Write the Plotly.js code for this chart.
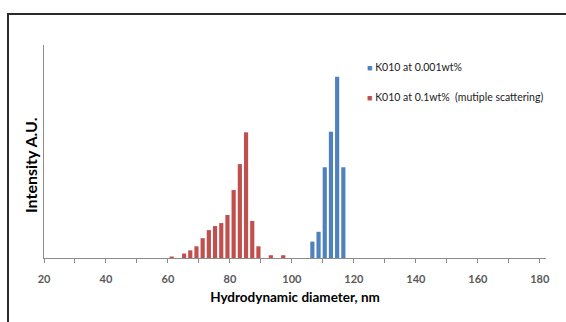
<!DOCTYPE html>
<html>
<head>
<meta charset="utf-8">
<script src="https://cdn.plot.ly/plotly-3.0.1.min.js"></script>
<style>
html,body{margin:0;padding:0;background:#fff;}
#chart{width:566px;height:322px;}
</style>
</head>
<body>
<div id="chart"></div>
<script>
// Series: K010 at 0.001wt% (blue)
const blueDiameter = [106.6, 108.6, 110.6, 112.6, 114.6, 116.6];
const blueIntensity = [0.077, 0.123, 0.426, 0.593, 0.851, 0.426];
// Series: K010 at 0.1wt% (multiple scattering) (red)
const redDiameter = [61.2, 65.2, 67.2, 69.2, 71.2, 73.2, 75.2, 77.2, 79.2, 81.2, 83.2, 85.2, 87.2, 89.2, 93.2, 97.2];
const redIntensity = [0.007, 0.021, 0.036, 0.055, 0.093, 0.131, 0.150, 0.164, 0.202, 0.319, 0.441, 0.590, 0.174, 0.055, 0.013, 0.013];
const seriesNames = ["K010 at 0.001wt%", "K010 at 0.1wt%  (mutiple scattering)"];
const xTickVals = [20, 40, 60, 80, 100, 120, 140, 160, 180];
const yTitle = "Intensity A.U.";

const BLUE = "#4F81BD", RED = "#C0504D";
const font = "Lato, 'Open Sans', sans-serif";

const traces = [
  {type: "bar", x: blueDiameter, y: blueIntensity, name: seriesNames[0],
   marker: {color: BLUE}, width: 1.35, showlegend: false},
  {type: "bar", x: redDiameter, y: redIntensity, name: seriesNames[1],
   marker: {color: RED}, width: 1.35, showlegend: false}
];

const layout = {
  width: 566, height: 322,
  margin: {l: 44, r: 20, t: 45, b: 64},
  paper_bgcolor: "#fff", plot_bgcolor: "#fff",
  barmode: "overlay",
  font: {family: font, color: "#404040"},
  xaxis: {
    range: [20, 182], tickvals: xTickVals, ticktext: xTickVals.map(String),
    showline: true, linecolor: "#8c8c8c", linewidth: 1,
    ticks: "outside", ticklen: 4, tickcolor: "#8c8c8c",
    minor: {dtick: 10, tick0: 20, ticks: "outside", ticklen: 4, tickcolor: "#8c8c8c"},
    showgrid: false, zeroline: false,
    ticklabelstandoff: 7,
    tickfont: {family: font, size: 11, color: "#595959", weight: "bold"},
    title: {text: "Hydrodynamic diameter, nm", standoff: 8,
            font: {family: font, size: 13.5, color: "#000", weight: "bold"}}
  },
  yaxis: {
    range: [0, 1], showline: true, linecolor: "#8c8c8c", linewidth: 1,
    showticklabels: false, ticks: "", showgrid: false, zeroline: false
  },
  annotations: [
    {xref: "paper", yref: "paper", x: (30 - 44) / 502, y: (258 - 165) / 213,
     xanchor: "center", yanchor: "middle", showarrow: false, textangle: -90,
     text: yTitle,
     font: {family: font, size: 16, color: "#000", weight: "bold"}},
    {xref: "paper", yref: "paper", x: (365 - 44) / 502, y: (258 - 67) / 213,
     xanchor: "left", yanchor: "middle", showarrow: false, align: "left",
     text: '<span style="color:' + BLUE + ';font-size:9px">■</span> ' + seriesNames[0],
     font: {family: font, size: 10.5, color: "#1a1a1a"}},
    {xref: "paper", yref: "paper", x: (365 - 44) / 502, y: (258 - 97) / 213,
     xanchor: "left", yanchor: "middle", showarrow: false, align: "left",
     text: '<span style="color:' + RED + ';font-size:9px">■</span> ' + seriesNames[1],
     font: {family: font, size: 10.5, color: "#1a1a1a"}}
  ],
  shapes: [
    {type: "path", xref: "paper", yref: "paper",
     path: "M " + ((8 - 44) / 502) + " -0.4 L " + ((8 - 44) / 502) + " " + ((258 - 14) / 213) +
           " L 1.1 " + ((258 - 14) / 213),
     line: {color: "#2a2a2a", width: 2}}
  ]
};

Plotly.newPlot("chart", traces, layout, {displayModeBar: false, staticPlot: true});
</script>
</body>
</html>
